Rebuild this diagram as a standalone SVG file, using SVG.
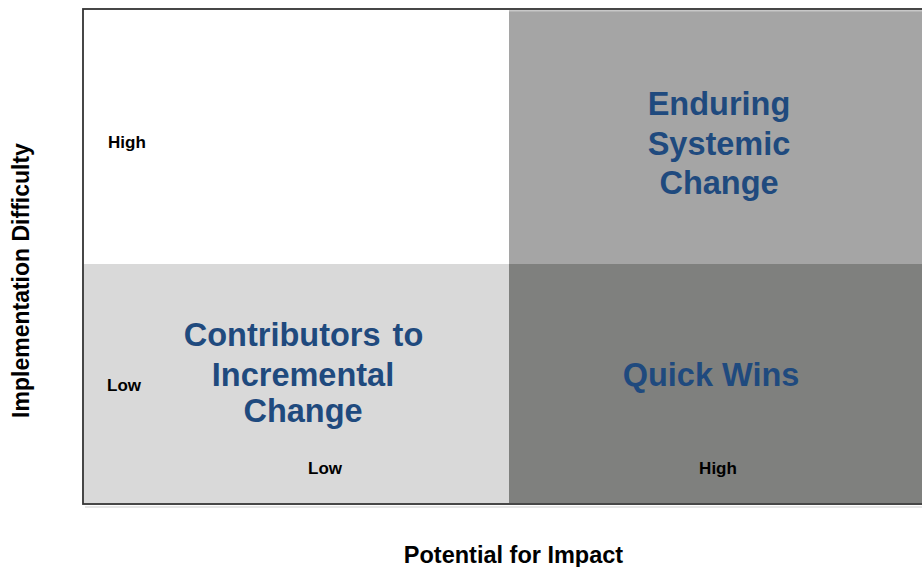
<svg xmlns="http://www.w3.org/2000/svg" width="922" height="567" viewBox="0 0 922 567">
<style>
.ax{font-family:"Liberation Sans",Arial,sans-serif;font-weight:bold;fill:#000}
.tick{font-family:"Liberation Sans",Arial,sans-serif;font-weight:bold;font-size:17px;fill:#000}
.q{font-family:"Liberation Sans",Arial,sans-serif;font-weight:bold;font-size:32.5px;fill:#1f4a7e;text-anchor:middle}
</style>
<rect width="922" height="567" fill="#ffffff"/>
<g id="frame">
<rect x="85" y="506" width="837" height="2" fill="#e6e6e6"/>
<rect x="83" y="9" width="845" height="495" fill="none" stroke="#333333" stroke-width="1.8"/>
</g>
<g id="q-top-left">
<rect x="84" y="10" width="425" height="254" fill="#ffffff"/>
<text class="tick" x="108" y="148">High</text>
</g>
<g id="q-top-right">
<rect x="509" y="10" width="413" height="254" fill="#a5a5a5"/>
<rect x="509" y="10" width="413" height="1.5" fill="#c8c8c8"/>
<text class="q" x="719" y="115">Enduring</text>
<text class="q" x="719" y="155">Systemic</text>
<text class="q" x="719" y="194">Change</text>
</g>
<g id="q-bottom-left">
<rect x="84" y="264" width="425" height="239" fill="#d9d9d9"/>
<text class="tick" x="107" y="391">Low</text>
<text class="q" x="303.5" y="346" word-spacing="3">Contributors to</text>
<text class="q" x="303" y="386">Incremental</text>
<text class="q" x="303" y="422">Change</text>
<text class="tick" x="325" y="474" text-anchor="middle">Low</text>
</g>
<g id="q-bottom-right">
<rect x="509" y="264" width="413" height="239" fill="#7f807e"/>
<text class="q" x="711" y="386">Quick Wins</text>
<text class="tick" x="718" y="474" text-anchor="middle">High</text>
</g>
<g id="connectors"/>
<g id="axis-labels">
<text class="ax" x="513.5" y="563" font-size="23.5" text-anchor="middle">Potential for Impact</text>
<text class="ax" font-size="23" text-anchor="middle" transform="translate(29 280.5) rotate(-90)">Implementation Difficulty</text>
</g>
</svg>
